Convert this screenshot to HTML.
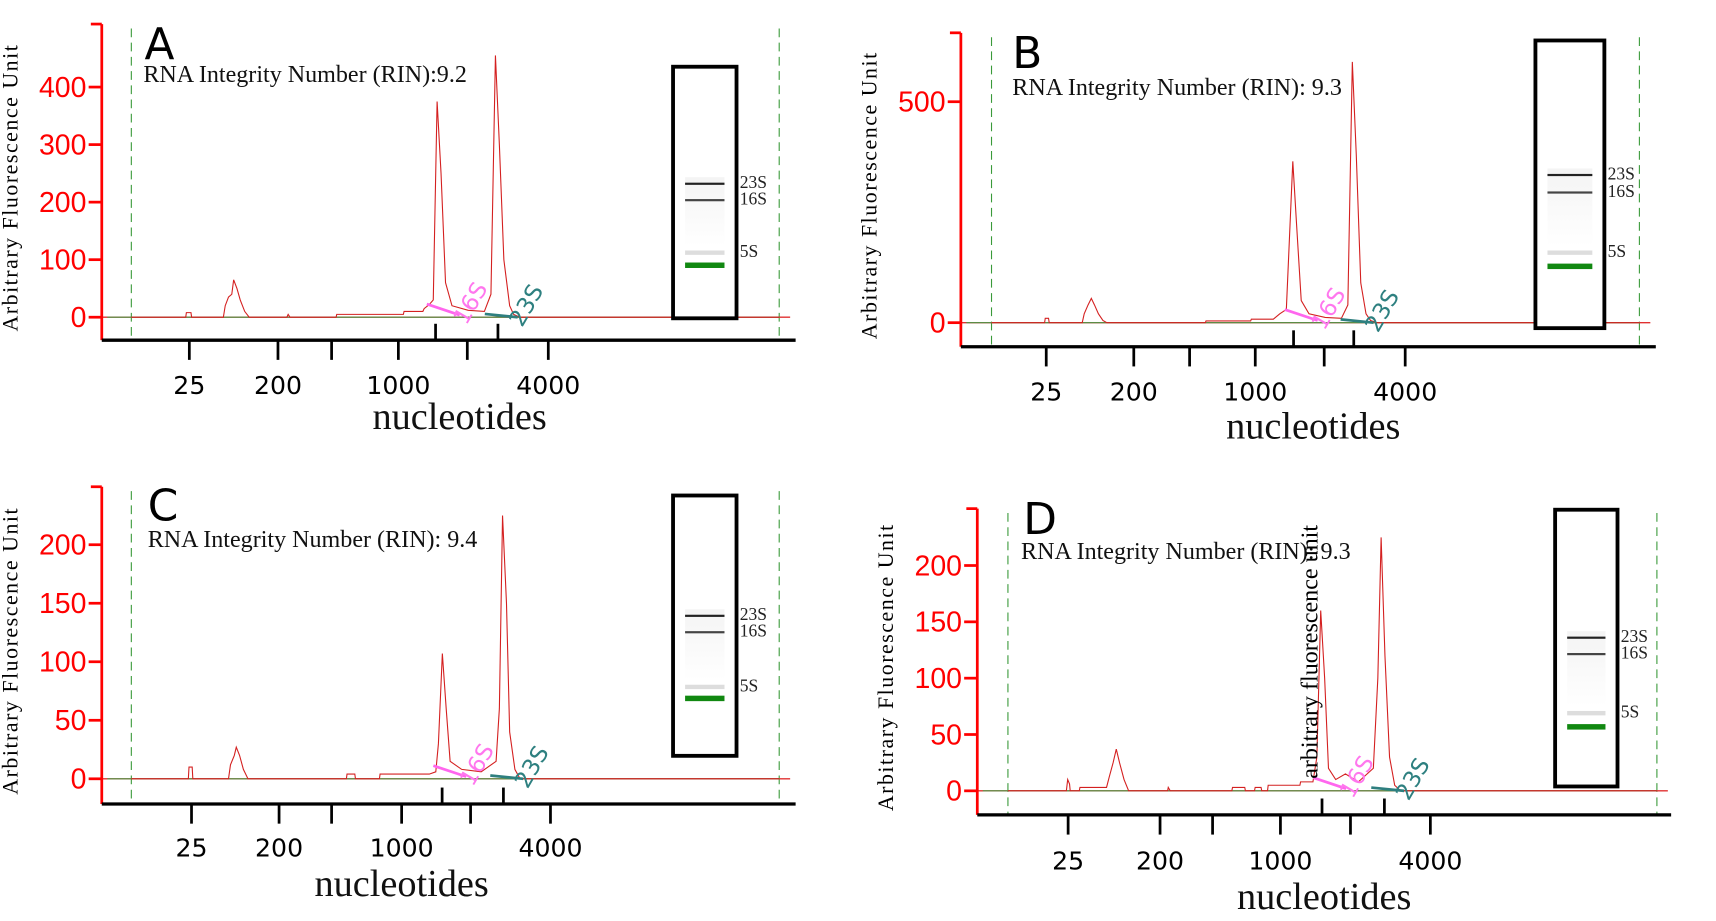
<!DOCTYPE html>
<html><head><meta charset="utf-8"><style>
html,body{margin:0;padding:0;background:#fff;}
svg{display:block;}
</style></head><body>
<svg id="fig" width="1716" height="921" viewBox="0 0 1568 842" preserveAspectRatio="none" xmlns="http://www.w3.org/2000/svg">
<defs><linearGradient id="smear" x1="0" y1="0" x2="0" y2="1"><stop offset="0" stop-color="#f4f4f4"/><stop offset="1" stop-color="#fff"/></linearGradient></defs>
</svg>
<script>
// ---- data (time units 0..100 between the dashed markers, fluorescence units) ----
const panelLetters = ["A","B","C","D"];
const rinValues = ["RNA Integrity Number (RIN):9.2","RNA Integrity Number (RIN): 9.3","RNA Integrity Number (RIN): 9.4","RNA Integrity Number (RIN): 9.3"];
const yTicksA = [0,100,200,300,400];
const yTicksB = [0,500];
const yTicksC = [0,50,100,150,200];
const yTicksD = [0,50,100,150,200];
const xTickLabels = ["25","200","1000","4000"];
const traceA = [[0,0],[8.4,0],[8.5,8],[9.2,8],[9.3,0],[14.2,0],[14.5,20],[15,35],[15.5,40],[15.8,65],[16.3,50],[16.8,30],[17.5,10],[18.2,0],[24,0],[24.2,5],[24.5,0],[31.6,0],[31.7,5],[42,5],[42.1,10],[45,10],[45.2,15],[46,22],[46.6,30],[47.2,375],[47.8,250],[48.5,60],[49.5,20],[52,12],[54.5,10],[55.5,40],[56.2,455],[56.8,300],[57.5,100],[58.4,20],[59,5],[60,0],[100,0]];
const traceB = [[0,0],[8.2,0],[8.3,10],[8.8,10],[8.9,0],[14,0],[14.3,20],[14.9,40],[15.4,55],[15.9,40],[16.5,20],[17.2,5],[17.8,0],[33,0],[33.1,4],[40,4],[40.1,8],[43.5,8],[44.5,20],[45.5,30],[46.5,365],[47.1,220],[47.8,50],[49,20],[51.5,12],[54,10],[55,40],[55.7,590],[56.3,380],[57,90],[57.8,20],[58.5,5],[59.5,0],[100,0]];
const traceC = [[0,0],[8.8,0],[8.9,10],[9.4,10],[9.5,0],[15,0],[15.3,12],[15.9,20],[16.2,27],[16.7,20],[17.3,8],[18,0],[33.2,0],[33.3,4],[34.5,4],[34.6,0],[38.3,0],[38.4,4],[46,4],[47,6],[47.4,30],[48,107],[48.6,60],[49.2,15],[51,8],[54,6],[56.3,15],[56.8,60],[57.3,225],[57.9,150],[58.4,40],[59.2,8],[60,0],[100,0]];
const traceD = [[0,0],[9,0],[9.2,10],[9.5,6],[9.6,0],[11,0],[11.1,3],[15.2,3],[15.6,12],[16.2,25],[16.7,37],[17.2,25],[17.9,10],[18.6,0],[24.6,0],[24.7,3],[25,0],[34.5,0],[34.6,3],[36.5,3],[36.6,0],[38,0],[38.1,3],[39,3],[39.1,0],[40,0],[40.1,5],[45,5],[45.1,8],[47,8],[47.6,30],[48.2,160],[48.8,100],[49.4,20],[50.5,10],[52,15],[54,8],[56.3,20],[57,100],[57.5,225],[58.1,120],[58.8,30],[59.6,5],[60.5,0],[100,0]];

// ---- layout (not data) ----
const layouts = [
 {letter:[132,54],rin:[131,75],ax:93,axTop:22,axBot:311,axRight:727,y0:290,yScale:0.526,d1:120,d2:712,xt:[173,254,364,501],mid:[303,427],up:[398,455],lblY:360,nuc:[420,392],gel:[615,61,58,230],bands:[168,183,231,242],yTicks:yTicksA,trace:traceA},
 {letter:[925,62],rin:[925,87],ax:878,axTop:30,axBot:317,axRight:1513,y0:295,yScale:0.404,d1:906,d2:1498,xt:[956,1036,1147,1284],mid:[1087,1210],up:[1182,1237],lblY:366,nuc:[1200,401],gel:[1403,37,63,263],bands:[160,176,231,243],yTicks:yTicksB,trace:traceB},
 {letter:[135,476],rin:[135,500],ax:93,axTop:445,axBot:735,axRight:727,y0:712,yScale:1.07,d1:120,d2:712,xt:[175,255,367,503],mid:[303,430],up:[404,460],lblY:783,nuc:[367,819],gel:[615,453,58,238],bands:[563,578,628,638],yTicks:yTicksC,trace:traceC},
 {letter:[935,488],rin:[933,511],ax:893,axTop:465,axBot:745,axRight:1527,y0:723,yScale:1.03,d1:921,d2:1514,xt:[976,1060,1170,1307],mid:[1108,1234],up:[1208,1265],lblY:795,nuc:[1210,831],gel:[1421,466,57,253],bands:[583,598,652,664],yTicks:yTicksD,trace:traceD}
];
const NS="http://www.w3.org/2000/svg";
const svg=document.getElementById('fig');
function mk(tag,attrs,parent,text){const e=document.createElementNS(NS,tag);for(const k in attrs)e.setAttribute(k,attrs[k]);if(text!==undefined)e.textContent=text;(parent||svg).appendChild(e);return e;}

layouts.forEach((L,i)=>{
  const g=mk('g',{});
  
  
  const sx=t=>L.d1+(L.d2-L.d1)*t/100;
  const sy=v=>L.y0-v*L.yScale;
  [L.d1,L.d2].forEach((x,j)=>{const d=mk('line',{x1:x,x2:x,y1:L.axTop+4,y2:L.axBot,stroke:'#3a9a3a','stroke-width':1,'stroke-dasharray':'8,5'},g);
    
    });
  mk('line',{x1:L.ax,x2:L.d2+10,y1:L.y0,y2:L.y0,stroke:'#e03030','stroke-width':1.2},g);
  const bl=mk('line',{x1:L.ax+5,x2:L.d2,y1:L.y0,y2:L.y0,stroke:'#4a9a4a','stroke-width':1},g);
  
  
  const pts=L.trace.map(p=>sx(p[0]).toFixed(1)+','+sy(p[1]).toFixed(1)).join(' ');
  const tr=mk('polyline',{points:pts,fill:'none',stroke:'#d42020','stroke-width':1},g);
  
  
  const ya=mk('line',{x1:L.ax,x2:L.ax,y1:L.axTop,y2:L.axBot,stroke:'#ff0000','stroke-width':2.5},g);
  
  
  mk('line',{x1:L.ax-10,x2:L.ax,y1:L.axTop,y2:L.axTop,stroke:'#ff0000','stroke-width':2.5},g);
  L.yTicks.forEach(v=>{
    mk('line',{x1:L.ax-12,x2:L.ax,y1:sy(v),y2:sy(v),stroke:'#ff0000','stroke-width':2.5},g);
    const t=mk('text',{x:L.ax-14,y:sy(v)+9,'text-anchor':'end','font-family':'Liberation Sans, sans-serif','font-size':26,fill:'#ff0000'},g,String(v));
    
    
  });
  const yt=mk('text',{x:0,y:0,transform:`translate(${L.ax-77},${(L.axTop+L.axBot)/2+5}) rotate(-90)`,'text-anchor':'middle','font-family':'Liberation Serif, serif','font-size':20,'letter-spacing':'1.4',fill:'#000'},g,'Arbitrary Fluorescence Unit');
  
  
  const xa=mk('line',{x1:L.ax,x2:L.axRight,y1:L.axBot,y2:L.axBot,stroke:'#000','stroke-width':3},g);
  
  
  L.xt.forEach((x,j)=>{mk('line',{x1:x,x2:x,y1:L.axBot,y2:L.axBot+18,stroke:'#000','stroke-width':2.5},g);
    const t=mk('text',{x:x,y:L.lblY,'text-anchor':'middle','font-family':'DejaVu Sans, sans-serif','font-size':23,fill:'#000'},g,xTickLabels[j]);
    
    });
  L.mid.forEach(x=>mk('line',{x1:x,x2:x,y1:L.axBot,y2:L.axBot+18,stroke:'#000','stroke-width':2.5},g));
  L.up.forEach(x=>mk('line',{x1:x,x2:x,y1:L.axBot-15,y2:L.axBot,stroke:'#000','stroke-width':2.5},g));
  const nt=mk('text',{x:L.nuc[0],y:L.nuc[1],'text-anchor':'middle','font-family':'Liberation Serif, serif','font-size':35,fill:'#111'},g,'nucleotides');
  
  
  const p16=L.up[0], p23=L.up[1];
  mk('line',{x1:p16-8,x2:p16+22,y1:L.y0-12,y2:L.y0-2,stroke:'#ff66ee','stroke-width':2.5},g);
  const a16=mk('text',{transform:`translate(${p16+28},${L.y0+8}) rotate(-60)`,'font-family':'DejaVu Sans, sans-serif','font-size':21,fill:'#ff77ee'},g,'16S');
  
  
  mk('line',{x1:p23-12,x2:p23+18,y1:L.y0-3,y2:L.y0,stroke:'#2e7f7f','stroke-width':2.5},g);
  const a23=mk('text',{transform:`translate(${p23+22},${L.y0+10}) rotate(-60)`,'font-family':'DejaVu Sans, sans-serif','font-size':21,fill:'#2e8080'},g,'23S');
  
  
  const lt=mk('text',{x:L.letter[0],y:L.letter[1],'font-family':'DejaVu Sans, sans-serif','font-size':40,fill:'#000'},g,panelLetters[i]);
  
  
  const rt=mk('text',{x:L.rin[0],y:L.rin[1],'font-family':'Liberation Serif, serif','font-size':22,fill:'#111'},g,rinValues[i]);
  
  
  const [gx,gy,gw,gh]=L.gel;
  const gb=mk('rect',{x:gx,y:gy,width:gw,height:gh,fill:'#fff',stroke:'#000','stroke-width':3.5},g);
  
  
  const bx=gx+11,bw=gw-22;
  mk('rect',{x:bx,y:L.bands[0]-6,width:bw,height:(L.bands[2]-L.bands[0]),fill:'url(#smear)'},g);
  mk('rect',{x:bx,y:L.bands[0]-1,width:bw,height:2,fill:'#222'},g);
  mk('rect',{x:bx,y:L.bands[1]-1,width:bw,height:2,fill:'#444'},g);
  mk('rect',{x:bx,y:L.bands[2]-2,width:bw,height:4,fill:'#ddd'},g);
  mk('rect',{x:bx,y:L.bands[3]-2,width:bw,height:5,fill:'#118811'},g);
  [['23S',L.bands[0]+4],['16S',L.bands[1]+4],['5S',L.bands[2]+4]].forEach(b=>{
    const t=mk('text',{x:gx+gw+3,y:b[1],'font-family':'Liberation Serif, serif','font-size':16,fill:'#222'},g,b[0]);
    
    
  });
});
const st=mk('text',{transform:'translate(1204,712) rotate(-90)','font-family':'Liberation Serif, serif','font-size':22,fill:'#000'},svg,'arbitrary fluorescence unit');


</script>
</body></html>
